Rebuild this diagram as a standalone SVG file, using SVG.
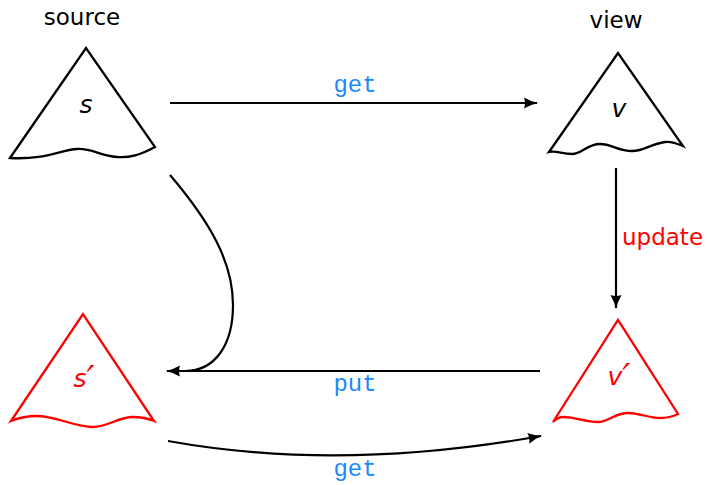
<svg xmlns="http://www.w3.org/2000/svg" width="707" height="485" viewBox="0 0 707 485">
<style>
.tri{fill:none;stroke-width:2.3;stroke-linejoin:miter}
.blk{stroke:#000}
.red{stroke:#ff0000}
.lbl{font-family:"DejaVu Sans",sans-serif;font-size:23px;fill:#000}
.var{font-family:"DejaVu Sans",sans-serif;font-style:italic;font-size:25px}
.pr{font-size:36px}
.fn{font-family:"Liberation Mono","DejaVu Sans Mono",monospace;font-size:24px;fill:#1e88ff}
.con{fill:none;stroke:#000;stroke-width:2.2}
</style>
<defs>
<marker id="ah" viewBox="0 0 14 12" refX="13" refY="6" markerWidth="14" markerHeight="12" markerUnits="userSpaceOnUse" orient="auto">
<path d="M0,0.5 Q7,4.5 14,6 Q7,7.5 0,11.5 Q2,6 0,0.5 Z" fill="#000"/>
</marker>
</defs>
<rect width="707" height="485" fill="#fff"/>
<g id="source">
<text class="lbl" x="82" y="25" text-anchor="middle">source</text>
<path class="tri blk" d="M10,158 L86,48 L155,147 C140,155 130,158 117,157 C100,156 92,148 77,149 C60,150 45,160 10,158 Z"/>
<text class="var" x="86" y="113" text-anchor="middle" fill="#000">s</text>
</g>
<g id="view">
<text class="lbl" x="616" y="28" text-anchor="middle">view</text>
<path class="tri blk" d="M549,152 L618,53 L683,146 C676,143 670,141 665,142 C650,144 645,151 632,151 C618,151 612,144 600,144 C587,144 582,154 572,154 C562,154 556,150 549,152 Z"/>
<text class="var" x="619" y="117" text-anchor="middle" fill="#000">v</text>
</g>
<g id="source-prime">
<path class="tri red" d="M11,421 L83,314 L154,421 C147,418 142,417 133,417 C118,417 108,427 93,427 C75,427 55,416 37,416 C25,416 16,419 11,421 Z"/>
<text class="var" x="84" y="387" text-anchor="middle" fill="#ff0000">s<tspan class="pr" dy="4">′</tspan></text>
</g>
<g id="view-prime">
<path class="tri red" d="M553,422 L618,320 L678,414 C672,417 668,418 660,418 C648,418 640,413 628,413 C615,413 608,422 598,422 C585,422 575,417 563,417 C558,417 555,420 553,422 Z"/>
<text class="var" x="619" y="385" text-anchor="middle" fill="#ff0000">v<tspan class="pr" dy="4">′</tspan></text>
</g>
<g id="connectors">
<path class="con" d="M170,103 L537,103" marker-end="url(#ah)"/>
<text class="fn" x="355" y="92" text-anchor="middle">get</text>
<path class="con" d="M616,168 L616,308" marker-end="url(#ah)"/>
<text x="622" y="245" font-family="DejaVu Sans,sans-serif" font-size="23" fill="#ff0000">update</text>
<path class="con" d="M540,371 L167,371" marker-end="url(#ah)"/>
<text class="fn" x="355" y="391" text-anchor="middle">put</text>
<path class="con" d="M170,175 C210,222 233,262 233,305 C233,345 215,371 185,371"/>
<path class="con" d="M168,441 Q340,472 541,436" marker-end="url(#ah)"/>
<text class="fn" x="355" y="476" text-anchor="middle">get</text>
</g>
</svg>
